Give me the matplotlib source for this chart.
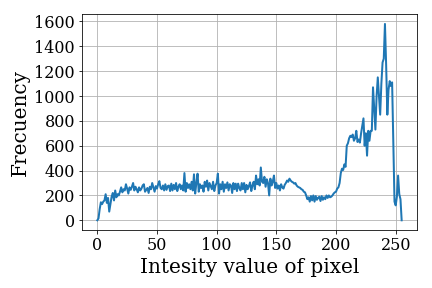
import matplotlib
matplotlib.use("Agg")
import matplotlib.pyplot as plt
import numpy as np

# histogram counts, one per intensity 0..255
counts = [
    0, 15, 90, 145, 130, 150, 160, 210, 140, 180,
    70, 130, 190, 220, 160, 240, 185, 210, 200, 230,
    265, 225, 250, 240, 290, 255, 215, 265, 245, 270,
    300, 240, 270, 250, 225, 265, 240, 255, 280, 290,
    230, 245, 260, 220, 270, 250, 300, 265, 230, 275,
    255, 290, 315, 260, 250, 280, 240, 290, 245, 275,
    280, 235, 295, 240, 285, 250, 300, 235, 270, 290,
    250, 280, 240, 380, 230, 300, 260, 290, 250, 310,
    240, 370, 215, 300, 375, 230, 290, 260, 280, 230,
    310, 270, 320, 240, 300, 275, 250, 310, 235, 280,
    300, 375, 215, 290, 250, 310, 230, 290, 260, 305,
    240, 290, 280, 220, 300, 250, 295, 235, 295, 260,
    240, 300, 250, 300, 225, 285, 250, 275, 305, 235,
    280, 310, 250, 360, 290, 330, 280, 425, 310, 300,
    350, 270, 330, 300, 200, 335, 280, 310, 360, 260,
    300, 255, 280, 240, 290, 265, 255, 285, 300, 320,
    310, 335, 320, 310, 305, 295, 300, 280, 270, 265,
    260, 250, 245, 230, 225, 200, 170, 185, 150, 195,
    160, 200, 150, 195, 165, 180, 190, 155, 195, 165,
    185, 170, 200, 180, 200, 185, 190, 200, 215, 225,
    230, 255, 265, 300, 380, 415, 405, 450, 430, 600,
    620, 660, 680, 670, 690, 640, 660, 720, 630, 650,
    625, 700, 760, 820, 600, 700, 520, 720, 640, 720,
    720, 1070, 900, 730, 1000, 1150, 1000, 850, 1100, 1270,
    1300, 1580, 1250, 850, 1050, 1120, 1080, 1110, 650, 150,
    120, 190, 360, 210, 170, 0,
]
intensity = np.arange(len(counts))

plt.rcParams['font.family'] = 'DejaVu Serif'

fig, ax = plt.subplots(figsize=(6, 4), dpi=72)
ax.plot(intensity, counts, color='tab:blue', linewidth=2)
ax.grid(True)
ax.set_xlabel('Intesity value of pixel', fontsize=20)
ax.set_ylabel('Frecuency', fontsize=20)
ax.tick_params(labelsize=16)
ax.set_yticks(np.arange(0, 1601, 200))
fig.subplots_adjust(left=0.19, right=0.965, top=0.951, bottom=0.201)
plt.savefig('out.png', dpi=72)
